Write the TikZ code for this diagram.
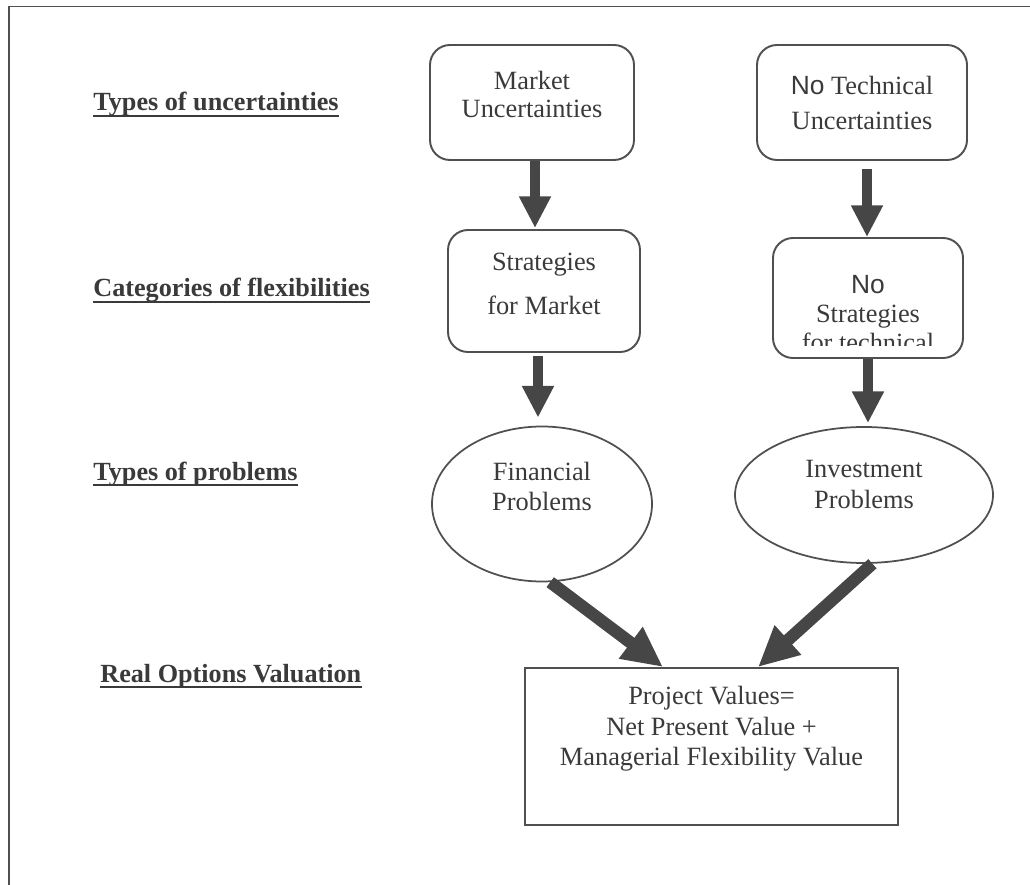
\documentclass[tikz,border=0pt]{standalone}
\usepackage{fontspec}
\setmainfont{Liberation Serif}
\newfontfamily\arialfont{Liberation Sans}
\usepackage{tikz}
\usetikzlibrary{arrows.meta,shapes.geometric,positioning}
\definecolor{rovtext}{RGB}{58,58,58}
\definecolor{rovline}{RGB}{80,80,80}
\definecolor{rovarrow}{RGB}{70,70,70}
\tikzstyle{frame} = [line width=1.1pt, draw=rovline]
\tikzstyle{heading} = [anchor=base west, inner sep=0pt, text=rovtext, font=\fontsize{14.9}{17}\selectfont\bfseries]
\tikzstyle{headline} = [line width=1.1pt, draw=rovtext]
\tikzstyle{ubox} = [rectangle, rounded corners=0.4cm, draw=rovline, line width=1.1pt, inner sep=0pt]
\tikzstyle{probell} = [ellipse, draw=rovline, line width=1pt, inner sep=0pt]
\tikzstyle{valbox} = [rectangle, draw=rovline, line width=1.1pt, inner sep=0pt]
\tikzstyle{boxtext} = [anchor=north, inner sep=0pt, align=center, text=rovtext, font=\fontsize{15}{17.4}\selectfont]
\tikzstyle{downarrow} = [line width=5.7pt, draw=rovarrow, -{Triangle[length=18pt,width=17pt]}]
\tikzstyle{slantarrow} = [line width=7pt, draw=rovarrow, -{Triangle[length=23pt,width=21pt]}]

\begin{document}
\begin{tikzpicture}
\useasboundingbox (0,0) rectangle (20.6,-17.7);

% Page frame (top and left edge only)
\draw[frame] (0.18,-17.7) -- (0.18,-0.13) -- (20.6,-0.13);

% Row headings
\node[heading] (hUnc) at (1.86,-2.22) {Types of uncertainties};
\node[heading] (hFlex) at (1.86,-5.94) {Categories of flexibilities};
\node[heading] (hProb) at (1.86,-9.60) {Types of problems};
\node[heading] (hROV) at (2.00,-13.64) {Real Options Valuation};
\foreach \h in {hUnc,hFlex,hProb,hROV}
  \draw[headline] ([yshift=-2.8pt]\h.base west) -- ([yshift=-2.8pt]\h.base east);

% Uncertainties
\node[ubox, minimum width=4.08cm, minimum height=2.30cm] (mktUnc) at (10.64,-2.05) {};
\node[ubox, minimum width=4.20cm, minimum height=2.30cm] (techUnc) at (17.24,-2.05) {};
\node[boxtext, font=\fontsize{15}{15.6}\selectfont] (mktUncTxt) at ([yshift=-0.54cm]mktUnc.north) {Market\\Uncertainties};
\node[boxtext] (techUncTxt) at ([yshift=-0.64cm]techUnc.north) {{\arialfont No} Technical\\[2.6pt]Uncertainties};

% Flexibilities
\node[ubox, minimum width=3.84cm, minimum height=2.44cm] (mktStrat) at (10.88,-5.82) {};
\node[ubox, minimum width=3.80cm, minimum height=2.40cm] (techStrat) at (17.36,-5.96) {};
\node[boxtext] (mktStratTxt) at ([yshift=-0.48cm]mktStrat.north) {Strategies\\[7.6pt]for Market};
\begin{scope}
  \clip (techStrat.north west) rectangle ([yshift=0.26cm]techStrat.south east);
  \node[boxtext, font=\fontsize{15}{16.5}\selectfont] (techStratTxt) at ([yshift=-0.76cm]techStrat.north)
    {{\arialfont No}\\Strategies\\for technical};
\end{scope}

% Problems
\node[probell, minimum width=4.40cm, minimum height=3.10cm] (finProb) at (10.84,-10.08) {};
\node[probell, minimum width=5.16cm, minimum height=2.72cm] (invProb) at (17.28,-9.90) {};
\node[boxtext] (finProbTxt) at ([yshift=-0.72cm]finProb.north) {Financial\\Problems};
\node[boxtext] (invProbTxt) at ([yshift=-0.68cm]invProb.north) {Investment\\Problems};

% Valuation
\node[valbox, minimum width=7.46cm, minimum height=3.14cm] (projVal) at (14.23,-14.93) {};
\node[boxtext] (projValTxt) at ([yshift=-0.38cm]projVal.north)
  {Project Values=\\Net Present Value +\\Managerial Flexibility Value};

% Connections
\coordinate (a1) at ([xshift=0.06cm]mktUnc.south);
\coordinate (a2) at ([xshift=0.10cm]techUnc.south);
\coordinate (a3) at ([xshift=-0.12cm]mktStrat.south);
\coordinate (a4) at (techStrat.south);
\draw[downarrow] (a1) -- ([yshift=0.02cm]a1 |- mktStrat.north);
\draw[downarrow, shorten <=0.16cm] (a2) -- (a2 |- techStrat.north);
\draw[downarrow, shorten <=0.06cm] (a3) -- ([yshift=0.16cm]a3 |- finProb.north);
\draw[downarrow] (a4) -- ([yshift=0.06cm]a4 |- invProb.north);
\draw[slantarrow] (finProb.-84) -- ([xshift=-0.97cm]projVal.north);
\draw[slantarrow] (invProb.-83) -- ([xshift=0.93cm]projVal.north);
\end{tikzpicture}
\end{document}
